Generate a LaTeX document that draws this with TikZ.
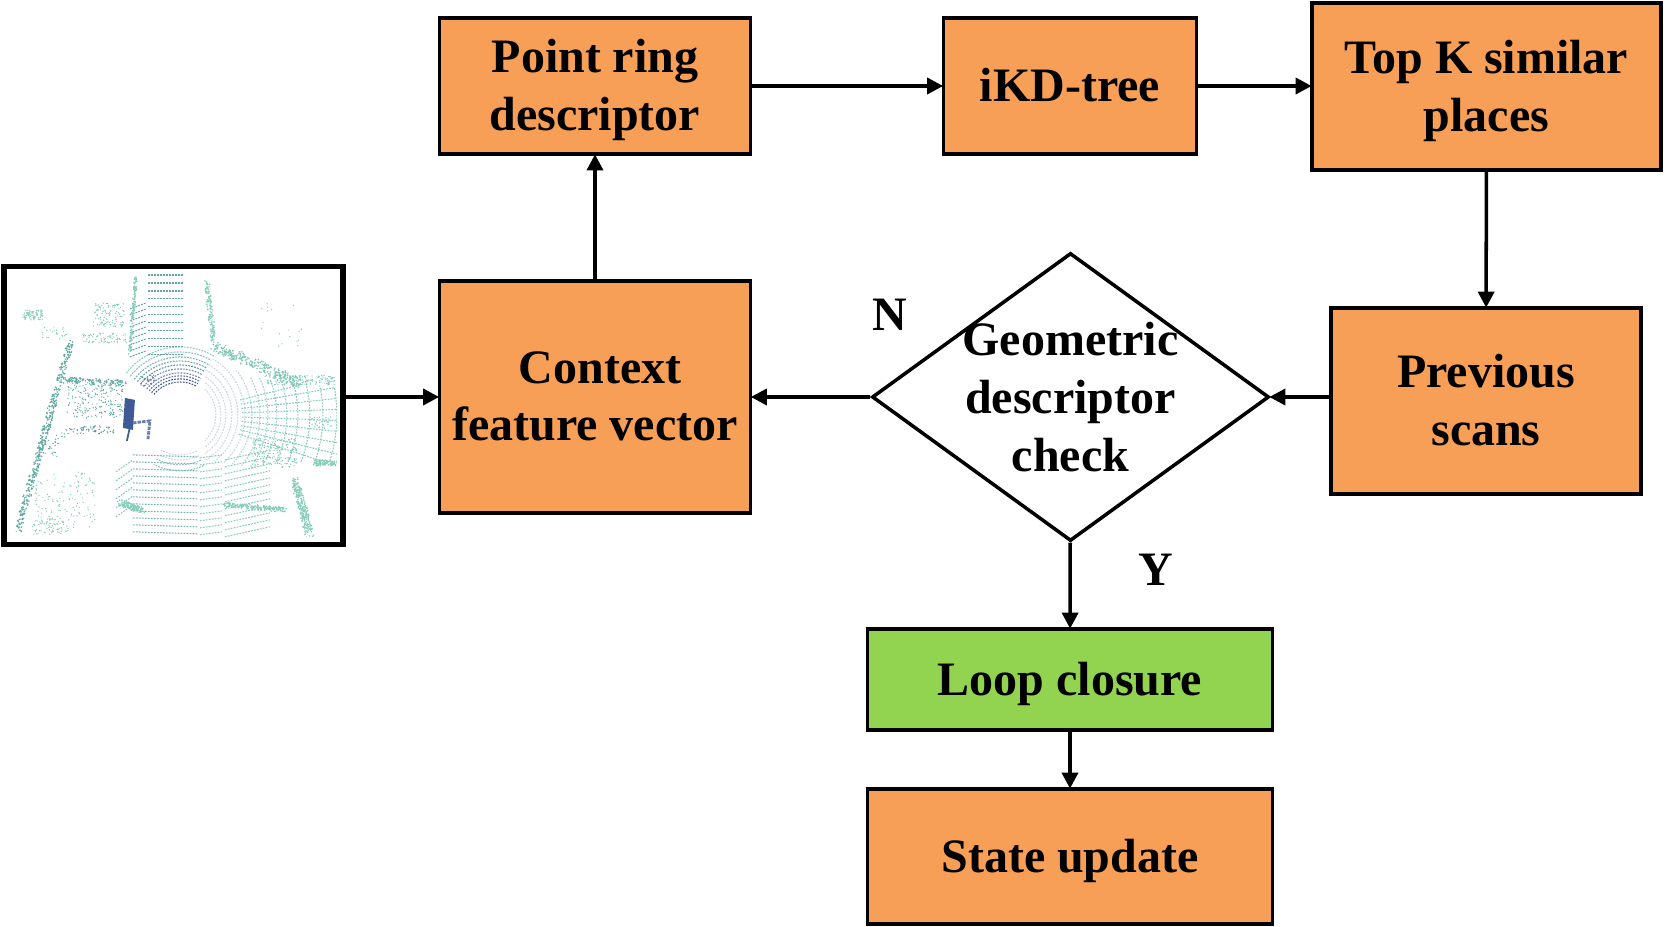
\documentclass[tikz,border=0pt]{standalone}
\usepackage{fontspec}
\setmainfont{Liberation Serif}
\usepackage{xcolor}
\usetikzlibrary{
    positioning,
    arrows.meta,
    shapes.geometric,
}
\definecolor{boxorange}{HTML}{F79F56}
\definecolor{boxgreen}{HTML}{92D450}
\definecolor{scanteal}{HTML}{85CDB9}
\definecolor{scanmid}{HTML}{5FA8A0}
\definecolor{scandark}{HTML}{3F5A94}
\definecolor{scanlight}{HTML}{CDD5E4}
\tikzset{
    % Basic node styles
    block/.style={rectangle, draw, line width=1pt, align=center, fill=boxorange, inner sep=0pt, text depth=0.5pt,
                  font=\fontsize{13.65}{16.4}\selectfont\bfseries},
    green block/.style={block, fill=boxgreen},
    check/.style={diamond, draw, line width=1pt, align=center, fill=white, inner sep=-1.5pt, aspect=1.38,
                  font=\fontsize{13.65}{16.4}\selectfont\bfseries},
    branch/.style={font=\fontsize{13.65}{16.4}\selectfont\bfseries},
    frame/.style={rectangle, draw, line width=1.5pt, inner sep=0pt},
    % Arrow styles
    arrow/.style={-{Triangle[length=1.6mm, width=1.6mm]}, line width=1pt, shorten >=-0.4pt},
    % Scan styles
    scan/.style={line width=0.3pt, dash pattern=on 0.5pt off 0.35pt},
}
% Scatter of points: centre x, centre y, spread x, spread y, count, colour
\newcommand{\scanpatch}[6]{
    \foreach \i in {1,...,#5} {
        \fill[#6] ({#1+rand*#3},{#2+rand*#4}) circle (0.2pt);
    }
}
% Points along a line: x1, y1, x2, y2, jitter, count, colour
\newcommand{\scanwall}[7]{
    \foreach \i in {1,...,#6} {
        \pgfmathsetmacro{\t}{rnd}
        \fill[#7] ({#1+\t*(#3-#1)+rand*#5},{#2+\t*(#4-#2)+rand*#5}) circle (0.25pt);
    }
}
\begin{document}
\begin{tikzpicture}
    \useasboundingbox (0, 0) rectangle (16.67, -9.27);

    % Top row
    \node[block, minimum width=3.11cm, minimum height=1.36cm] (ring) at (5.95, -0.86) {Point ring\\descriptor};
    \node[block, minimum width=2.53cm, minimum height=1.36cm] (tree) at (10.70, -0.86) {iKD-tree};
    \node[block, minimum width=3.49cm, minimum height=1.67cm] (topk) at (14.865, -0.865) {Top K similar\\places};

    % Middle row
    \node[frame, minimum width=3.39cm, minimum height=2.78cm] (scan) at (1.735, -4.055) {};
    \node[block, minimum width=3.11cm, minimum height=2.32cm] (context) at (5.95, -3.97) {\hspace*{0.1cm}Context\\feature vector};
    \node[check, minimum width=3.97cm, minimum height=2.88cm] (geo) at (10.705, -3.97) {Geometric\\descriptor\\check};
    \node[block, minimum width=3.10cm, minimum height=1.86cm] (prev) at (14.86, -4.01) {Previous\\scans};

    % Bottom column
    \node[green block, minimum width=4.05cm, minimum height=1.01cm] (loop) at (10.70, -6.795) {Loop closure};
    \node[block, minimum width=4.05cm, minimum height=1.35cm] (state) at (10.70, -8.565) {State update};

    % Branch labels
    \node[branch] (no) at (8.90, -3.15) {N};
    \node[branch] (yes) at (11.56, -5.70) {Y};

    % Point cloud inside the frame
    \pgfmathsetseed{7}
    \begin{scope}[shift={(0, -2.55)}, x=0.01cm, y=-0.01cm]
        \clip (16, 18) rectangle (337, 282);
        % Rings round the sensor, kept inside the road wedge
        \begin{scope}
            \clip (205, 100) -- (250, 122) -- (337, 133) -- (337, 205) -- (250, 212) -- (205, 205) -- cycle;
            \foreach \r/\c in {36/scanlight, 41/scanlight, 46/scanlight, 52/scanlight, 58/scanlight,
                               65/scanlight, 72/scanlight!70!scanteal, 80/scanlight!50!scanteal, 88/scanteal!50!scanlight,
                               97/scanteal!70!scanlight, 107/scanteal!80!scanlight, 118/scanteal, 130/scanteal, 143/scanteal, 157/scanteal} {
                \draw[scan, \c] (180, 160) ++(-60:\r) arc (-60:60:\r);
            }
            \foreach \a in {-14, -10, -6, -2, 2, 6, 10, 14, 18} {
                \draw[scan, scanteal] (180, 160) ++(\a:62) -- ++(\a:170);
            }
        \end{scope}
        % Dense band over the sensor
        \foreach \r/\c in {33/scandark, 36/scandark, 39/scandark!80!scanlight, 42/scandark!70!scanlight, 46/scandark!60!scanlight,
                           50/scanmid!70!scandark, 54/scanmid, 58/scanmid!80!scanlight, 63/scanmid!60!scanlight, 68/scanteal} {
            \draw[scan, \c] (180, 160) ++(-142:\r) arc (-142:-60:\r);
        }
        \foreach \r/\c in {40/scanlight, 45/scanlight, 50/scanmid!50!scanlight, 56/scanmid!60!scanlight} {
            \draw[scan, \c] (180, 160) ++(65:\r) arc (65:118:\r);
        }
        % Road stripes, upper and lower
        \foreach \y in {20, 28, ..., 104} {
            \draw[scan, scanmid] (148, \y) -- (183, \y);
        }
        \foreach \y in {48, 54, ..., 96} {
            \draw[scan, scanmid] (130, \y+6) -- (146, \y);
        }
        \foreach \y in {200, 207, ..., 281} {
            \draw[scan, scanmid!80!scanlight] (133, \y) -- (198, \y+2);
            \draw[scan, scanteal] (200, \y+3) -- (222, \y);
            \draw[scan, scanteal] (225, \y+5) -- (270, \y-5);
        }
        \foreach \y in {205, 214, ..., 250} {
            \draw[scan, scanteal] (116, \y+12) -- (133, \y);
        }
        % Walls and kerbs
        \scanwall{70}{88}{18}{275}{3.5}{420}{scanmid}
        \scanwall{60}{125}{125}{128}{3}{110}{scanmid}
        \scanwall{136}{22}{130}{98}{1.5}{130}{scanteal}
        \scanwall{207}{28}{214}{88}{2.5}{120}{scanteal}
        \scanwall{295}{225}{310}{280}{4}{240}{scanteal}
        \scanwall{120}{248}{142}{255}{3}{130}{scanteal}
        \scanwall{225}{250}{285}{255}{2.5}{170}{scanteal}
        \scanwall{315}{208}{337}{208}{3}{100}{scanteal}
        \scanwall{215}{92}{300}{128}{5}{260}{scanteal!80!scanmid}
        % Dark object beside the sensor
        \fill[scandark] (125, 143) -- (135, 145) -- (133, 175) -- (123, 173) -- cycle;
        \draw[scandark!70!scanlight, line width=0.8pt, dash pattern=on 1pt off 0.3pt] (133, 168) -- (150, 166) -- (148, 185);
        \draw[scandark, line width=0.5pt] (130, 172) -- (127, 186);
        % Vegetation and clutter
        \scanpatch{108}{60}{16}{12}{110}{scanteal}
        \scanpatch{105}{83}{22}{5}{70}{scanteal}
        \scanpatch{33}{60}{10}{5}{90}{scanteal}
        \scanpatch{55}{78}{14}{6}{25}{scanteal}
        \scanpatch{95}{145}{28}{18}{200}{scanmid}
        \scanpatch{90}{175}{25}{4}{60}{scanmid!70!scandark}
        \scanpatch{55}{190}{10}{12}{30}{scanmid}
        \scanpatch{300}{125}{35}{5}{150}{scanteal!80!scanmid}
        \scanpatch{275}{198}{22}{15}{150}{scanteal!80!scanmid}
        \scanpatch{65}{245}{30}{28}{130}{scanteal}
        \scanpatch{50}{272}{18}{8}{70}{scanteal}
        \scanpatch{280}{70}{22}{22}{18}{scanteal}
        \scanpatch{148}{125}{7}{6}{30}{scandark!70!scanlight}
        \scanpatch{322}{168}{12}{6}{35}{scanteal}
    \end{scope}

    % Arrows
    \draw[arrow] (scan.east |- context) -- (context);
    \draw[arrow] (context) -- (ring);
    \draw[arrow] (ring) -- (tree);
    \draw[arrow] (tree) -- (topk.west |- tree);
    \draw[arrow] (topk) -- (prev);
    \draw[arrow] (prev.west |- geo) -- (geo);
    \draw[arrow] (geo) -- (context);
    \draw[arrow] (geo) -- (loop);
    \draw[arrow] (loop) -- (state);
\end{tikzpicture}
\end{document}
